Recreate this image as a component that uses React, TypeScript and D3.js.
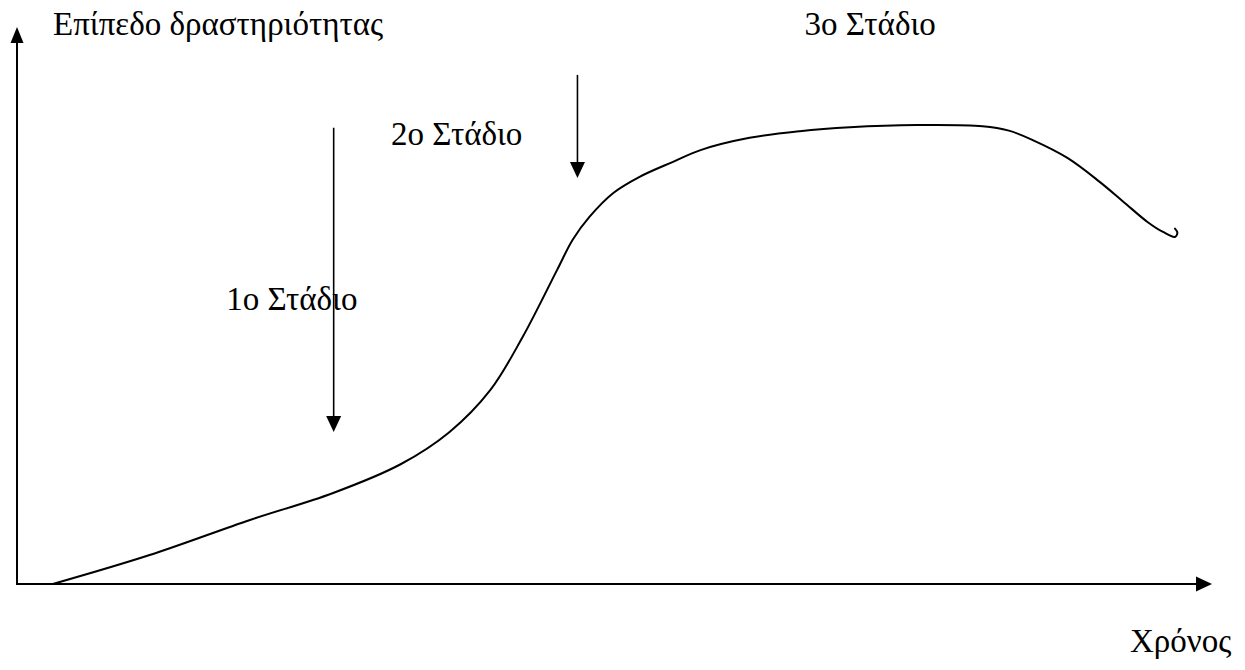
import React from "react";
import * as d3 from "d3";

// Curve: time (0-100) vs activity level (0-100)
const timeValues = [3.0, 11.1, 19.5, 26.4, 32.1, 36.2, 39.6, 42.3, 45.2, 46.5, 47.9, 49.9, 52.1, 54.9, 57.2, 61.3, 65.5, 69.7, 75.3, 80.8, 83.0, 85.0, 87.9, 90.6, 92.6, 94.6, 95.9, 96.9, 97.1, 96.9];
const activityValues = [0, 5.2, 11.5, 16.3, 21.5, 27.3, 34.8, 44.3, 56.4, 61.8, 65.9, 70.2, 73.1, 75.8, 77.9, 80.1, 81.3, 82.0, 82.4, 82.2, 81.4, 79.7, 76.5, 72.2, 68.6, 65.0, 63.2, 62.3, 63.1, 63.8];

// Stage annotations (text + down arrows), in data units
const stageLabels = ["1ο Στάδιο", "2ο Στάδιο", "3ο Στάδιο"];
const stageLabelX = [17.5, 31.3, 65.9];
const stageLabelY = [49.2, 78.8, 98.6];
const stageArrowX = [26.5, 46.9];
const stageArrowTop = [81.9, 91.4];
const stageArrowBottom = [27.3, 72.9];

const yAxisTitle = "Επίπεδο δραστηριότητας";
const xAxisTitle = "Χρόνος";

export default function App() {
  const width = 1245;
  const height = 670;
  const x = d3.scaleLinear().domain([0, 100]).range([17, 1212]);
  const y = d3.scaleLinear().domain([0, 100]).range([584, 27]);

  const pts: [number, number][] = timeValues.map((t, i) => [x(t), y(activityValues[i])]);
  const line = d3.line().curve(d3.curveCatmullRom.alpha(0.5));
  const pathD = line(pts) || "";

  const x0 = x(0);
  const y0 = y(0);
  const xEnd = x(100);
  const yTop = y(100);

  return (
    <svg width={width} height={height} style={{ marginLeft: -8, marginTop: -8, display: "block" }}>
      {/* Axes */}
      <line x1={x0} y1={y0} x2={x0} y2={yTop + 14} stroke="#000" strokeWidth={2} />
      <polygon points={`${x0},${yTop} ${x0 - 6.5},${yTop + 16} ${x0 + 6.5},${yTop + 16}`} fill="#000" />
      <line x1={x0 - 1} y1={y0} x2={xEnd - 14} y2={y0} stroke="#000" strokeWidth={2} />
      <polygon points={`${xEnd},${y0} ${xEnd - 16},${y0 - 7.5} ${xEnd - 16},${y0 + 7.5}`} fill="#000" />

      {/* Curve */}
      <path d={pathD} fill="none" stroke="#000" strokeWidth={2} strokeLinecap="round" strokeLinejoin="round" />

      {/* Stage arrows */}
      {stageArrowX.map((ax, i) => {
        const px = x(ax);
        const top = y(stageArrowTop[i]);
        const tip = y(stageArrowBottom[i]);
        return (
          <g key={i}>
            <line x1={px} y1={top} x2={px} y2={tip - 12} stroke="#000" strokeWidth={1.6} />
            <polygon points={`${px},${tip} ${px - 7.5},${tip - 16} ${px + 7.5},${tip - 16}`} fill="#000" />
          </g>
        );
      })}

      {/* Texts */}
      {stageLabels.map((s, i) => (
        <text key={s} x={x(stageLabelX[i])} y={y(stageLabelY[i])} style={{ fontFamily: '"Times New Roman"', fontSize: 33 }}>
          {s}
        </text>
      ))}
      <text x={53} y={35} style={{ fontFamily: '"Times New Roman"', fontSize: 33 }}>{yAxisTitle}</text>
      <text x={1130} y={652} style={{ fontFamily: '"Times New Roman"', fontSize: 33 }}>{xAxisTitle}</text>
    </svg>
  );
}
